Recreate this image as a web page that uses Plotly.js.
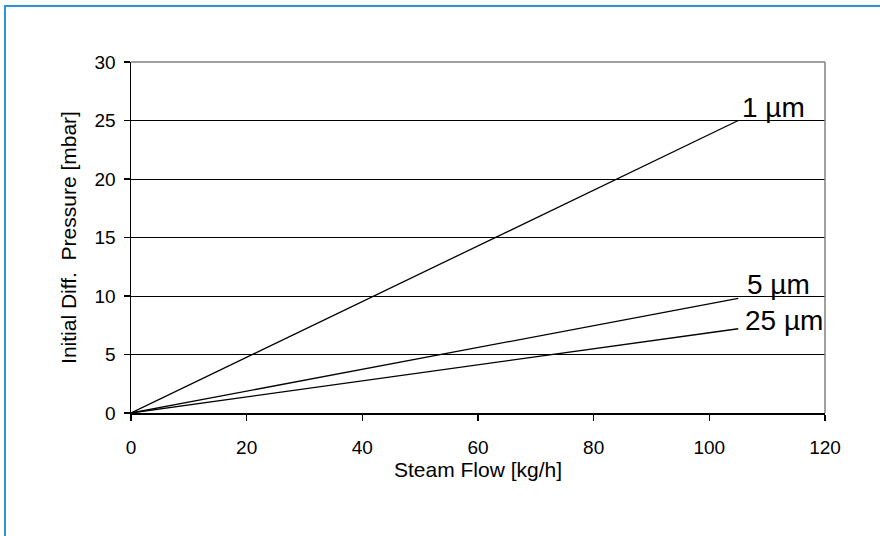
<!DOCTYPE html>
<html>
<head>
<meta charset="utf-8">
<script src="https://cdn.plot.ly/plotly-3.0.1.min.js"></script>
<style>
  html, body { margin: 0; padding: 0; background: #ffffff; }
  #chart { width: 880px; height: 536px; position: absolute; left: 0; top: 0; }
  #frame { position: absolute; left: 4px; top: 5px; width: 880px; height: 540px;
           border-left: 2px solid #2b95dc; border-top: 2px solid #2b95dc; pointer-events: none; }
</style>
</head>
<body>
<div id="chart"></div>
<div id="frame"></div>
<script>
// Data
const steamFlow = [0, 105];
const dp1um = [0, 25];
const dp5um = [0, 9.8];
const dp25um = [0, 7.2];
const seriesLabels = ["1 µm", "5 µm", "25 µm"];
const labelX = [105.3, 106.2, 105.8];
const labelY = [26.1, 11.0, 7.9];
const xTicks = [0, 20, 40, 60, 80, 100, 120];
const yTicks = [0, 5, 10, 15, 20, 25, 30];

const lineStyle = { color: '#000000', width: 1.3 };
const traces = [dp1um, dp5um, dp25um].map((ys, i) => ({
  x: steamFlow, y: ys, type: 'scatter', mode: 'lines',
  line: lineStyle, name: seriesLabels[i], hoverinfo: 'skip'
}));

const font = { family: 'Liberation Sans, Arial, sans-serif', color: '#000000' };

const layout = {
  width: 880, height: 536,
  margin: { l: 131, r: 55, t: 62, b: 123 },
  paper_bgcolor: '#ffffff', plot_bgcolor: '#ffffff',
  showlegend: false,
  font: Object.assign({ size: 19 }, font),
  xaxis: {
    range: [0, 120], tickvals: xTicks, ticktext: xTicks.map(String),
    showgrid: false, zeroline: false,
    showline: true, linecolor: '#000000', linewidth: 1.5,
    ticks: 'outside', ticklen: 6, tickcolor: '#000000', tickwidth: 1.5,
    ticklabelstandoff: 11,
    tickfont: Object.assign({ size: 19 }, font),
    title: { text: 'Steam Flow [kg/h]', font: Object.assign({ size: 21 }, font), standoff: 4 }
  },
  yaxis: {
    range: [0, 30], tickvals: yTicks, ticktext: yTicks.map(String),
    showgrid: true, gridcolor: '#000000', gridwidth: 1,
    zeroline: false,
    showline: true, linecolor: '#000000', linewidth: 1.5,
    ticks: 'outside', ticklen: 6, tickcolor: '#000000', tickwidth: 1.5,
    ticklabelstandoff: 4,
    tickfont: Object.assign({ size: 19 }, font),
    title: { text: 'Initial Diff.  Pressure [mbar]', font: Object.assign({ size: 21 }, font), standoff: 12 }
  },
  shapes: [
    { type: 'line', xref: 'paper', yref: 'paper', x0: 0, x1: 1, y0: 1, y1: 1,
      line: { color: '#808080', width: 1.5 }, layer: 'above' },
    { type: 'line', xref: 'paper', yref: 'paper', x0: 1, x1: 1, y0: 0, y1: 1,
      line: { color: '#808080', width: 1.5 }, layer: 'above' }
  ],
  annotations: seriesLabels.map((t, i) => ({
    x: labelX[i], y: labelY[i], xref: 'x', yref: 'y', text: t,
    showarrow: false, xanchor: 'left', yanchor: 'middle',
    font: Object.assign({ size: 28 }, font), bgcolor: 'rgba(0,0,0,0)'
  }))
};

Plotly.newPlot('chart', traces, layout, { staticPlot: true, displayModeBar: false });
</script>
</body>
</html>
